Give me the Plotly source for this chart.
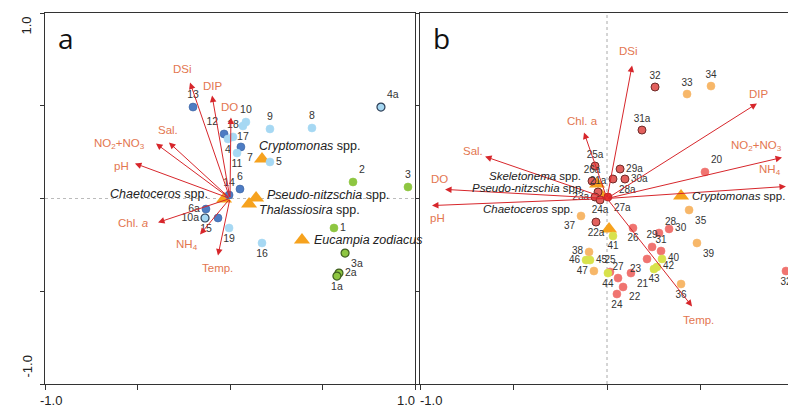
import plotly.graph_objects as go

# ---------------- panel a data ----------------
a_site = ["13", "12", "18", "4", "10", "17", "7", "11", "9", "8", "4a", "5",
          "6", "14", "2", "3", "6a", "10a", "15", "19", "16", "1", "3a", "2a", "1a"]
a_x = [-0.200, -0.032, 0.016, -0.011, 0.086, 0.070, 0.059, 0.038, 0.216, 0.443, 0.816, 0.216,
       0.054, -0.005, 0.665, 0.962, -0.130, -0.135, -0.065, -0.005, 0.173, 0.562, 0.622, 0.589, 0.578]
a_y = [0.493, 0.348, 0.332, 0.321, 0.412, 0.391, 0.278, 0.245, 0.375, 0.380, 0.493, 0.197,
       0.051, 0.019, 0.089, 0.062, -0.057, -0.105, -0.105, -0.159, -0.240, -0.159, -0.294, -0.402, -0.418]
a_grp = ["dark", "dark", "light", "light", "light", "light", "dark", "light", "light", "light", "light_o", "light",
         "dark", "dark", "green", "green", "dark", "light_o", "dark", "light", "light", "green", "green_o", "green_o", "green_o"]

a_env = ["DSi", "DIP", "DO", "Sal.", "NO<sub>2</sub>+NO<sub>3</sub>", "pH", "Chl. <i>a</i>", "NH<sub>4</sub>", "Temp."]
a_env_x = [-0.216, -0.097, 0.005, -0.330, -0.400, -0.514, -0.389, -0.162, -0.065]
a_env_y = [0.625, 0.555, 0.437, 0.302, 0.296, 0.189, -0.129, -0.194, -0.307]

a_spp = ["<i>Cryptomonas</i> spp.", "<i>Pseudo-nitzschia</i> spp.", "<i>Thalassiosira</i> spp.",
         "<i>Eucampia zodiacus</i>", "<i>Chaetoceros</i> spp."]
a_spp_x = [0.173, 0.141, 0.103, 0.389, -0.032]
a_spp_y = [0.213, 0.003, -0.030, -0.224, -0.003]

# ---------------- panel b data ----------------
b_site = ["32", "33", "34", "31a", "20", "29a", "30a", "28a", "25a", "26a", "21a", "23a", "24a", "27a",
          "35", "37", "22a", "41", "26", "28", "30", "29", "31", "39", "38", "46", "45", "25", "27",
          "47", "44", "21", "22", "24", "23", "40", "42", "43", "36", "32"]
b_x = [0.257, 0.428, 0.556, 0.187, 0.524, 0.070, 0.096, 0.032, -0.064, -0.080, -0.048, -0.064, -0.037, 0.005,
       0.439, -0.139, -0.059, 0.032, 0.139, 0.278, 0.332, 0.241, 0.289, 0.481, -0.096, -0.112, -0.091, 0.016, 0.059,
       -0.070, 0.005, 0.128, 0.086, 0.053, 0.214, 0.294, 0.267, 0.251, 0.396, 0.957]
b_y = [0.601, 0.563, 0.606, 0.369, 0.143, 0.159, 0.105, 0.105, 0.175, 0.094, 0.035, 0.008, -0.008, 0.008,
       -0.062, -0.094, -0.127, -0.202, -0.159, -0.186, -0.164, -0.261, -0.283, -0.240, -0.288, -0.332, -0.332, -0.396, -0.429,
       -0.391, -0.402, -0.402, -0.477, -0.515, -0.326, -0.326, -0.369, -0.380, -0.461, -0.391]
b_grp = ["red_o", "orange", "orange", "red_o", "salmon", "red_o", "red_o", "red_o", "red_o", "red_o", "red_o", "red_o", "red_o", "red",
         "orange", "orange", "red_o", "yellow", "salmon", "salmon", "salmon", "salmon", "salmon", "orange", "orange", "yellow", "yellow", "salmon", "salmon",
         "orange", "yellow", "salmon", "salmon", "salmon", "salmon", "yellow", "yellow", "yellow", "orange", "salmon"]

b_env = ["DSi", "Chl. a", "Sal.", "DO", "pH", "DIP", "NO<sub>2</sub>+NO<sub>3</sub>", "NH<sub>4</sub>", "Temp."]
b_env_x = [0.134, -0.123, -0.652, -0.866, -0.936, 0.802, 0.936, 0.957, 0.455]
b_env_y = [0.717, 0.356, 0.226, 0.049, -0.038, 0.512, 0.221, 0.065, -0.582]

b_spp = ["<i>Skeletonema</i> spp.", "<i>Pseudo-nitzschia</i> spp.", "<i>Chaetoceros</i> spp.", "<i>Cryptomonas</i> spp."]
b_spp_x = [-0.053, -0.027, 0.011, 0.396]
b_spp_y = [0.078, 0.013, -0.164, 0.013]

tick_text = ["-1.0", "1.0"]

# ---------------- styling ----------------
FONT = "Liberation Sans, Arial, sans-serif"
RED = "#d7262b"
ENV_TXT = "#e3764f"
TRI = "#f6a21e"

GROUP_STYLE = {
    "dark":    dict(color="#4d7cc3", line=dict(color="#3b62a0", width=0.6)),
    "light":   dict(color="#a6d8f3", line=dict(color="#a6d8f3", width=0.6)),
    "light_o": dict(color="#a6d8f3", line=dict(color="#2c3e56", width=1.2)),
    "green":   dict(color="#8ec641", line=dict(color="#8ec641", width=0.6)),
    "green_o": dict(color="#8ec641", line=dict(color="#3f5e20", width=1.2)),
    "red_o":   dict(color="#e2605d", line=dict(color="#6e2a28", width=1.0)),
    "red":     dict(color="#e8302c", line=dict(color="#b02020", width=0.8)),
    "salmon":  dict(color="#f07470", line=dict(color="#f07470", width=0.6)),
    "orange":  dict(color="#f7b769", line=dict(color="#f7b769", width=0.6)),
    "yellow":  dict(color="#d8e24c", line=dict(color="#d8e24c", width=0.6)),
}

a_textpos = ["top center", "top left", "top center", "bottom center", "top center", "bottom center",
             "bottom right", "bottom center", "top center", "top center", "top right", "middle right",
             "top center", "top center", "top right", "top center", "middle left", "middle left",
             "bottom left", "bottom center", "bottom center", "middle right", "bottom right",
             "middle right", "bottom center"]
b_textpos = ["top center", "top center", "top center", "top center", "top right", "middle right",
             "middle right", "bottom right", "top center", "top center", "top center", "middle left",
             "bottom center", "bottom right", "bottom right", "bottom left", "bottom center",
             "bottom center", "bottom center", "top right", "middle right", "top center", "top center",
             "bottom right", "middle left", "middle left", "middle right", "top center", "top center",
             "middle left", "bottom center", "bottom right", "bottom right", "bottom center",
             "bottom left", "middle right", "middle right", "bottom center", "bottom center",
             "bottom center"]

# label offsets (px) for arrow labels relative to arrow heads
a_env_off = [(-8, 14, "center"), (1, 10, "center"), (-1, 10, "center"), (-1, 12, "center"),
             (-9, 0, "right"), (-4, -3, "right"), (-8, -1, "right"), (-13, -11, "center"), (0, -13, "center")]
b_env_off = [(-4, 15, "center"), (-2, 11, "center"), (0, 6, "right"), (-6, 10, "center"),
             (6, -12, "center"), (2, 10, "center"), (-26, 12, "center"), (-16, 16, "center"), (6, -14, "center")]

# species label offsets (px)
a_spp_off = [(-5, 13, "left"), (9, 3, "left"), (8, -6, "left"), (10, 0, "left"), (-14, 5, "right")]
b_spp_off = [(-14, 8, "right"), (-15, 8, "right"), (-34, 20, "right"), (9, 0, "left")]

W, H = 788, 412
fig = go.Figure()


def add_sites(names, xs, ys, grps, tpos, xa, ya, fsize):
    for g in GROUP_STYLE:
        idx = [i for i, gg in enumerate(grps) if gg == g]
        if not idx:
            continue
        st = GROUP_STYLE[g]
        fig.add_trace(go.Scatter(
            x=[xs[i] for i in idx], y=[ys[i] for i in idx],
            text=[names[i] for i in idx], textposition=[tpos[i] for i in idx],
            mode="markers+text", xaxis=xa, yaxis=ya, showlegend=False, cliponaxis=False,
            marker=dict(size=8, color=st["color"], line=st["line"]),
            textfont=dict(family=FONT, size=fsize, color="#333333"),
            hoverinfo="skip"))


def add_species(xs, ys, xa, ya):
    fig.add_trace(go.Scatter(
        x=xs, y=ys, mode="markers", xaxis=xa, yaxis=ya, showlegend=False,
        marker=dict(symbol="triangle-up", size=14, color=TRI, line=dict(width=0)),
        hoverinfo="skip"))


def add_species_labels(names, xs, ys, offs, xr, yr, fsize):
    for n, x, y, (dx, dy, anc) in zip(names, xs, ys, offs):
        fig.add_annotation(x=x, y=y, xref=xr, yref=yr, text=n, showarrow=False,
                           xanchor=anc, yanchor="middle", xshift=dx, yshift=dy,
                           font=dict(family=FONT, size=fsize, color="#222222"))


def add_env(names, xs, ys, offs, xr, yr):
    for n, x, y, (dx, dy, anc) in zip(names, xs, ys, offs):
        fig.add_annotation(x=x, y=y, ax=0, ay=0, xref=xr, yref=yr, axref=xr, ayref=yr,
                           text="", showarrow=True, arrowhead=2, arrowsize=1.3,
                           arrowwidth=1, arrowcolor=RED, standoff=0)
        fig.add_annotation(x=x, y=y, xref=xr, yref=yr, text=n, showarrow=False,
                           xanchor=anc, yanchor="middle", xshift=dx, yshift=dy,
                           font=dict(family=FONT, size=11.5, color=ENV_TXT))


# panel a
add_species(a_spp_x, a_spp_y, "x", "y")
add_sites(a_site, a_x, a_y, a_grp, a_textpos, "x", "y", 10.5)
# panel b
add_species(b_spp_x, b_spp_y, "x2", "y2")
add_sites(b_site, b_x, b_y, b_grp, b_textpos, "x2", "y2", 10)

add_env(a_env, a_env_x, a_env_y, a_env_off, "x", "y")
add_env(b_env, b_env_x, b_env_y, b_env_off, "x2", "y2")
add_species_labels(a_spp, a_spp_x, a_spp_y, a_spp_off, "x", "y", 12.5)
add_species_labels(b_spp, b_spp_x, b_spp_y, b_spp_off, "x2", "y2", 11.5)

# dotted reference lines through the origin
fig.add_shape(type="line", xref="x", yref="y", x0=-1, x1=1, y0=0, y1=0,
              line=dict(color="#bbbbbb", width=1, dash="dot"), layer="below")
fig.add_shape(type="line", xref="x2", yref="y2", x0=0, x1=0, y0=-1, y1=1,
              line=dict(color="#aaaaaa", width=1, dash="dot"), layer="below")

# panel letters
for lab, px in [("a", 66), ("b", 442)]:
    fig.add_annotation(x=px / W, y=(H - 38) / H, xref="paper", yref="paper", text=lab,
                       showarrow=False, xanchor="center", yanchor="middle",
                       font=dict(family="Open Sans, sans-serif", size=28, color="#111111"))

# axis end labels
TF = dict(family=FONT, size=13, color="#222222")
for xr, xv, lab, anc, sh in [("x", -1, tick_text[0], "left", -7), ("x", 1, tick_text[1], "right", 2),
                             ("x2", -1, tick_text[0], "left", -2), ("x2", 1, tick_text[1], "right", 2)]:
    fig.add_annotation(x=xv, y=-1, xref=xr, yref="y", text=lab, showarrow=False,
                       xanchor=anc, yanchor="top", xshift=sh, yshift=-7, font=TF)
fig.add_annotation(x=-1, y=1, xref="x", yref="y", text=tick_text[1], showarrow=False, textangle=-90,
                   xanchor="right", yanchor="top", xshift=-9, yshift=-2, font=TF)
fig.add_annotation(x=-1, y=-1, xref="x", yref="y", text=tick_text[0], showarrow=False, textangle=-90,
                   xanchor="right", yanchor="bottom", xshift=-9, yshift=4, font=TF)

ax_common = dict(showgrid=False, zeroline=False, showticklabels=False, ticks="outside",
                 ticklen=5, tickcolor="#333333", linecolor="#333333", linewidth=1,
                 tickvals=[-1, -0.5, 0, 0.5, 1], fixedrange=True)

fig.update_layout(
    width=W, height=H, margin=dict(l=0, r=0, t=0, b=0),
    paper_bgcolor="white", plot_bgcolor="white",
    xaxis=dict(domain=[45 / W, 415 / W], range=[-1, 1], showline=True, mirror=True, anchor="y", **ax_common),
    yaxis=dict(domain=[28 / H, 399 / H], range=[-1, 1], showline=True, mirror=True, anchor="x",
               **{**ax_common, "ticklen": 4}),
    xaxis2=dict(domain=[420 / W, 1.0], range=[-1, (W - 607) / 187], showline=True, mirror=True,
                anchor="y2", **ax_common),
    yaxis2=dict(domain=[28 / H, 399 / H], range=[-1, 1], showline=True, mirror=False, anchor="x2",
                **{**ax_common, "ticklen": 4}),
)

fig.write_html("out.html")
